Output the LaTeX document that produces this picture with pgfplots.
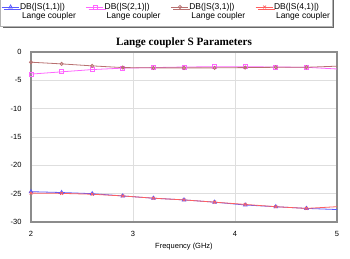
\documentclass[border=0pt]{standalone}
\usepackage{pgfplots}
\pgfplotsset{compat=1.18}
\usepackage{fontspec}
\setmainfont{Liberation Sans}
\newfontfamily\titlefont{Liberation Serif}
\usetikzlibrary{shadows}
\definecolor{cS11}{HTML}{5A5AFF}
\definecolor{cS21}{HTML}{FF66FF}
\definecolor{cS31}{HTML}{B87070}
\definecolor{cS41}{HTML}{FF6060}
\begin{document}
\begin{tikzpicture}
\useasboundingbox (-31pt,-37pt) rectangle (319pt,222pt);
\begin{axis}[
  scale only axis,
  width=306pt, height=170pt,
  xmin=2, xmax=5, ymin=-30, ymax=0,
  xtick={2,3,4,5}, ytick={-30,-25,-20,-15,-10,-5,0},
  major tick length=0pt,
  grid=major,
  grid style={draw=black!13, line width=0.6pt},
  axis line style={draw=black!45, line width=1.2pt},
  tick label style={font=\fontsize{7.5}{9}\selectfont, /pgf/number format/assume math mode=true},
  yticklabel style={xshift=-6pt},
  xticklabel style={yshift=-6pt},
  xlabel={Frequency (GHz)},
  xlabel style={font=\fontsize{7.5}{9}\selectfont, at={(axis description cs:0.5,0)}, anchor=center, yshift=-25pt},
  title={Lange coupler S Parameters},
  title style={font=\titlefont\bfseries\fontsize{11.2}{13}\selectfont, at={(axis description cs:0.5,1)}, anchor=base, yshift=0pt},
  legend columns=4,
  legend style={at={(-0.1013,1.3235)}, anchor=north west, draw=black!30, fill=white,
    drop shadow={shadow xshift=2.5pt, shadow yshift=-2.5pt, fill=black!60, opacity=1},
    font=\fontsize{8.5}{10}\selectfont, inner xsep=1pt, inner ysep=5pt,
    nodes={inner xsep=1pt, inner ysep=1pt},
    /tikz/every even column/.append style={column sep=9pt},
    /tikz/row sep=-0.7pt},
  legend cell align=left,
  legend image code/.code={\draw[mark=none] (0pt,0pt) -- (17pt,0pt); \draw plot coordinates {(9pt,0pt)};},
  mark size=2pt,
]
\addplot[cS11, line width=0.8pt, mark=triangle, mark indices={1,...,10}] coordinates {
 (2.0,-24.65) (2.3,-24.8) (2.6,-25.0) (2.9,-25.4) (3.2,-25.8) (3.5,-26.1) (3.8,-26.5) (4.1,-27.0) (4.4,-27.3) (4.7,-27.6) (5.0,-27.8)};
\addlegendentry{DB(|S(1,1)|)}
\addplot[cS21, line width=0.8pt, mark=square, mark indices={1,...,10}] coordinates {
 (2.0,-3.9) (2.3,-3.5) (2.6,-3.1) (2.9,-2.85) (3.2,-2.75) (3.5,-2.65) (3.8,-2.6) (4.1,-2.6) (4.4,-2.65) (4.7,-2.7) (5.0,-3.0)};
\addlegendentry{DB(|S(2,1)|)}
\addplot[cS31, line width=0.8pt, mark=o, mark size=1.6pt, mark indices={1,...,10}] coordinates {
 (2.0,-1.8) (2.3,-2.1) (2.6,-2.45) (2.9,-2.75) (3.2,-2.8) (3.5,-2.8) (3.8,-2.8) (4.1,-2.75) (4.4,-2.7) (4.7,-2.7) (5.0,-2.5)};
\addlegendentry{DB(|S(3,1)|)}
\addplot[cS41, line width=0.8pt, mark=x, mark indices={1,...,10}] coordinates {
 (2.0,-24.9) (2.3,-24.95) (2.6,-25.1) (2.9,-25.4) (3.2,-25.8) (3.5,-26.1) (3.8,-26.5) (4.1,-26.9) (4.4,-27.3) (4.7,-27.6) (5.0,-27.3)};
\addlegendentry{DB(|S(4,1)|)}
\addlegendimage{empty legend}\addlegendentry{\hspace*{2pt}Lange coupler}
\addlegendimage{empty legend}\addlegendentry{\hspace*{2pt}Lange coupler}
\addlegendimage{empty legend}\addlegendentry{\hspace*{2pt}Lange coupler}
\addlegendimage{empty legend}\addlegendentry{\hspace*{2pt}Lange coupler}
\end{axis}
\end{tikzpicture}
\end{document}
